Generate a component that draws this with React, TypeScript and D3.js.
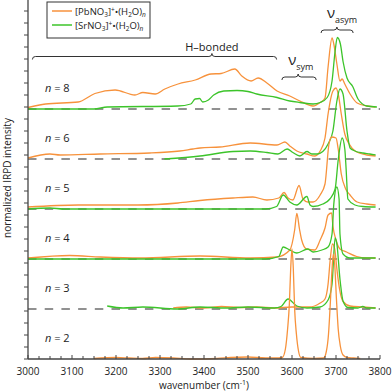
import React from 'react';
import * as d3 from 'd3';

// spectra: [wavenumber, normalized intensity above own baseline]
const pb8: [number, number][] = [[3000,0.03],[3040,0.1],[3114,0.14],[3152,0.31],[3198,0.38],[3243,0.28],[3261,0.33],[3289,0.3],[3311,0.4],[3341,0.5],[3380,0.58],[3416,0.7],[3439,0.71],[3470,0.8],[3486,0.66],[3507,0.56],[3523,0.62],[3543,0.52],[3566,0.36],[3595,0.26],[3618,0.16],[3648,0.06],[3664,0.13],[3675,0.22],[3682,0.84],[3691,1.42],[3695,1.3],[3702,0.9],[3709,0.56],[3714,0.6],[3720,0.5],[3732,0.3],[3748,0.12],[3770,0.06],[3790,0.04]];
const sr8: [number, number][] = [[3000,0],[3150,0],[3180,0.04],[3340,0.06],[3370,0.1],[3380,0.2],[3390,0.21],[3397,0.14],[3410,0.18],[3422,0.28],[3445,0.36],[3475,0.37],[3500,0.35],[3520,0.3],[3566,0.23],[3595,0.16],[3618,0.13],[3648,0.1],[3664,0.13],[3680,0.23],[3691,0.56],[3698,1.16],[3703,1.43],[3710,1.3],[3716,0.95],[3725,0.62],[3738,0.45],[3750,0.2],[3770,0.06],[3793,0.04]];
const pb6: [number, number][] = [[3000,0.02],[3050,0.1],[3073,0.08],[3164,0.1],[3277,0.12],[3345,0.16],[3375,0.2],[3391,0.22],[3436,0.24],[3505,0.32],[3566,0.28],[3584,0.34],[3595,0.26],[3611,0.16],[3634,0.1],[3652,0.06],[3664,0.16],[3675,0.42],[3682,0.9],[3693,1.36],[3700,1.42],[3705,1.3],[3712,0.9],[3720,0.5],[3730,0.3],[3745,0.15],[3770,0.08],[3790,0.06]];
const sr6: [number, number][] = [[3310,0],[3391,0.06],[3466,0.15],[3505,0.16],[3543,0.13],[3568,0.1],[3589,0.2],[3602,0.13],[3618,0.06],[3634,0.15],[3645,0.1],[3657,0.1],[3670,0.15],[3682,0.3],[3693,0.56],[3702,1.16],[3709,1.4],[3716,1.3],[3725,0.56],[3732,0.22],[3743,0.16],[3761,0.12],[3777,0.1],[3790,0.08]];
const pb5: [number, number][] = [[3000,0.04],[3114,0.08],[3250,0.08],[3341,0.12],[3391,0.17],[3466,0.22],[3511,0.24],[3543,0.18],[3570,0.22],[3582,0.33],[3591,0.22],[3602,0.18],[3616,0.47],[3625,0.2],[3636,0.14],[3648,0.14],[3664,0.28],[3675,0.5],[3684,1.3],[3690,1.44],[3700,1.42],[3705,1.2],[3712,0.7],[3722,0.4],[3732,0.28],[3748,0.14],[3770,0.1],[3790,0.08]];
const sr5: [number, number][] = [[3000,0],[3050,0.02],[3080,0],[3540,0],[3565,0.05],[3580,0.28],[3595,0.14],[3611,0.08],[3634,0.25],[3641,0.08],[3648,0.05],[3670,0.1],[3686,0.2],[3698,0.4],[3705,0.98],[3714,1.42],[3720,1.2],[3723,0.8],[3727,0.2],[3743,0.08],[3761,0.05],[3790,0.04]];
const pb4: [number, number][] = [[3000,0.02],[3095,0.07],[3164,0.04],[3255,0.02],[3391,0.06],[3505,0.02],[3566,0.04],[3595,0.18],[3606,0.58],[3611,0.91],[3617,0.6],[3622,0.38],[3633,0.2],[3652,0.18],[3664,0.38],[3675,0.62],[3682,0.88],[3690,0.92],[3693,0.66],[3700,0.38],[3709,0.2],[3724,0.14],[3747,0.05],[3770,0.02],[3790,0.02]];
const sr4: [number, number][] = [[3000,0],[3540,0],[3570,0.05],[3580,0.24],[3595,0.18],[3611,0.12],[3636,0.2],[3648,0.14],[3668,0.18],[3682,0.24],[3691,0.5],[3695,1.1],[3702,1.44],[3707,1.2],[3709,0.5],[3716,0.1],[3732,0.02],[3790,0.02]];
const pb3: [number, number][] = [[3330,0.02],[3360,0.04],[3400,0.02],[3440,0.05],[3480,0.03],[3520,0.04],[3560,0.02],[3600,0.04],[3640,0.04],[3664,0.12],[3675,0.2],[3682,0.5],[3687,1.0],[3692,1.3],[3697,1.2],[3702,0.8],[3708,0.4],[3716,0.15],[3732,0.06],[3761,0.04],[3790,0.02]];
const sr3: [number, number][] = [[3180,0.06],[3216,0.02],[3261,0.04],[3339,0],[3391,0.04],[3450,0.02],[3500,0.04],[3560,0.02],[3575,0.05],[3591,0.2],[3611,0.06],[3634,0.02],[3664,0.04],[3682,0.18],[3691,0.5],[3698,1.42],[3702,1.3],[3709,0.6],[3716,0.16],[3727,0.03],[3750,0.02],[3761,0.05],[3770,0.02],[3790,0.02]];
const pb2: [number, number][] = [[3150,0.01],[3200,0.03],[3230,0.02],[3260,0.01],[3290,0.03],[3330,0.02],[3370,0],[3430,0.01],[3460,0.03],[3500,0.04],[3540,0.02],[3570,0.02],[3578,0.03],[3585,0.2],[3590,0.6],[3594,1.1],[3597,1.8],[3600,2.2],[3603,1.8],[3606,1.0],[3610,0.5],[3615,0.15],[3620,0.03],[3650,0.01],[3672,0.02],[3678,0.15],[3683,0.5],[3687,1.1],[3691,1.8],[3694,2.1],[3697,1.9],[3701,1.2],[3705,0.6],[3710,0.25],[3716,0.08],[3725,0.03],[3740,0.02],[3755,0.01]];

const nLabels = ['2', '3', '4', '5', '6', '8'];
const pbSeries = [pb2, pb3, pb4, pb5, pb6, pb8];
const srSeries = [null, sr3, sr4, sr5, sr6, sr8];
const xTicks = [3000, 3100, 3200, 3300, 3400, 3500, 3600, 3700, 3800];
const legendNames = ['Pb', 'Sr'];
const bands = [
  { label: 'H–bonded', from: 3010, to: 3565, mid: 3418, level: 6.05, sub: '' },
  { label: 'ν', from: 3577, to: 3655, mid: 3614, level: 5.64, sub: 'sym' },
  { label: 'ν', from: 3666, to: 3739, mid: 3702, level: 6.58, sub: 'asym' },
];

const ORANGE = '#f7923c';
const GREEN = '#3cc42a';
const FONT = "'Open Sans', sans-serif";

const App = () => {
  const W = 392, H = 392;
  const x = d3.scaleLinear().domain([3000, 3800]).range([28, 380]);
  const y = d3.scaleLinear().domain([0, 7.18]).range([359, 0]);

  const lineAt = (off: number) =>
    d3.line<[number, number]>()
      .x(d => x(d[0]))
      .y(d => y(d[1] + off))
      .curve(d3.curveMonotoneX);

  const yTicks = d3.range(0, 7.19, 0.24);
  const minor = d3.range(3000, 3801, 25);

  const brace = (x1: number, x2: number, xm: number, yy: number) => {
    const h = 3;
    return `M${x1},${yy + h} Q${x1},${yy} ${x1 + h},${yy} L${xm - h},${yy} Q${xm},${yy} ${xm},${yy - h} Q${xm},${yy} ${xm + h},${yy} L${x2 - h},${yy} Q${x2},${yy} ${x2},${yy + h}`;
  };

  // draw top rows first so the tall low-n peaks sit above
  const order = [5, 4, 3, 2, 1, 0];

  return (
    <svg width={W} height={H} style={{ position: 'absolute', left: 0, top: 0, background: '#fff' }} fontFamily={FONT}>
      {/* baselines */}
      {order.map(i => i > 0 && (
        <line key={'b' + i} x1={x(3000)} x2={x(3800)} y1={y(i)} y2={y(i)}
          stroke="#6e6e6e" strokeWidth={1.5} strokeDasharray="8.5,8.2" />
      ))}

      {/* spectra */}
      {order.map(i => (
        <g key={'s' + i}>
          <path d={lineAt(i)(pbSeries[i]) || ''} fill="none" stroke={ORANGE} strokeWidth={1.3} strokeLinejoin="round" />
          {srSeries[i] && (
            <path d={lineAt(i)(srSeries[i] as [number, number][]) || ''} fill="none" stroke={GREEN} strokeWidth={1.3} strokeLinejoin="round" />
          )}
        </g>
      ))}

      {/* n labels */}
      {nLabels.map((n, i) => (
        <text key={'n' + n} x={45} y={y(i) - 17} fontSize={11} fill="#222">
          <tspan fontStyle="italic">n</tspan> = {n}
        </text>
      ))}

      {/* x axis */}
      <line x1={x(3000)} x2={x(3800)} y1={y(0)} y2={y(0)} stroke="#444" strokeWidth={1.3} />
      {minor.map(t => (
        <line key={'m' + t} x1={x(t)} x2={x(t)} y1={y(0)} y2={y(0) - (t % 100 === 0 ? 4 : 3)} stroke="#444" strokeWidth={1} />
      ))}
      {xTicks.map(t => (
        <text key={'xt' + t} x={x(t)} y={375} textAnchor="middle" fontSize={10} fill="#222">{t}</text>
      ))}
      <text x={204} y={389} textAnchor="middle" fontSize={10} fill="#222">
        wavenumber (cm<tspan dy={-4} fontSize={7}>-1</tspan><tspan dy={4}>)</tspan>
      </text>

      {/* y axis */}
      <line x1={28} x2={28} y1={0} y2={y(0)} stroke="#444" strokeWidth={1.3} />
      {yTicks.map(t => (
        <line key={'yt' + t} x1={24} x2={28} y1={y(t)} y2={y(t)} stroke="#444" strokeWidth={1} />
      ))}
      <text transform="translate(11,178) rotate(-90)" textAnchor="middle" fontSize={10} fill="#222">normalized IRPD intensity</text>

      {/* band braces */}
      {bands.map(b => (
        <g key={b.sub || b.label}>
          <path d={brace(x(b.from), x(b.to), x(b.mid), y(b.level))} fill="none" stroke="#333" strokeWidth={1} />
          {b.sub ? (
            <text x={x(b.mid) - 10} y={y(b.level) - 12} fontSize={15} fill="#222">
              {b.label}<tspan fontSize={9} dy={5}>{b.sub}</tspan>
            </text>
          ) : (
            <text x={x(b.mid)} y={y(b.level) - 6} textAnchor="middle" fontSize={11} fill="#222">{b.label}</text>
          )}
        </g>
      ))}

      {/* legend */}
      <rect x={47} y={2} width={103} height={36} fill="#fff" stroke="#333" strokeWidth={1} />
      {legendNames.map((nm, i) => (
        <g key={nm}>
          <line x1={52} x2={72} y1={11 + i * 14} y2={11 + i * 14} stroke={i === 0 ? ORANGE : GREEN} strokeWidth={1.5} />
          <text x={75} y={14.5 + i * 14} fontSize={9.5} fill="#222">
            [{nm}NO<tspan dy={2} fontSize={6.5}>3</tspan><tspan dy={-2}>]</tspan><tspan dy={-3} fontSize={6.5}>+</tspan><tspan dy={3}>•(H</tspan><tspan dy={2} fontSize={6.5}>2</tspan><tspan dy={-2}>O)</tspan><tspan dy={2} fontSize={6.5} fontStyle="italic">n</tspan>
          </text>
        </g>
      ))}
    </svg>
  );
};

export default App;
